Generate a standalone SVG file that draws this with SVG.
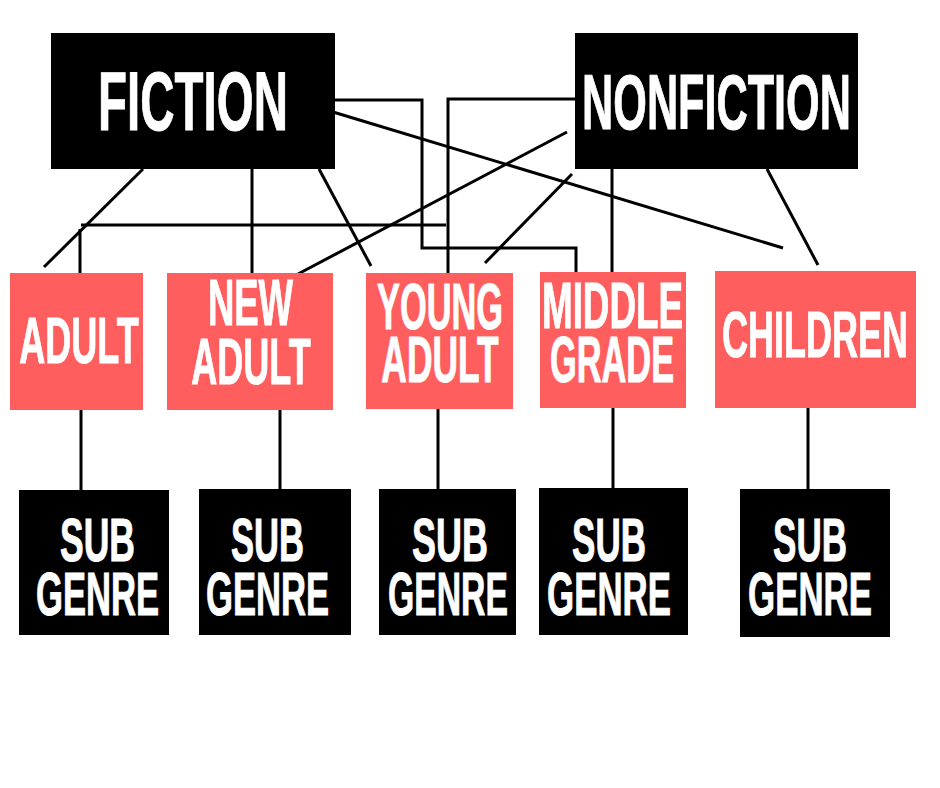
<svg xmlns="http://www.w3.org/2000/svg" width="940" height="788" viewBox="0 0 940 788">
<style>
.blk{fill:#000}
.red{fill:#FF5E5E}
.t{fill:#fff;font-family:"Liberation Sans",Arial,sans-serif;font-weight:700;text-anchor:middle;stroke:#fff;stroke-width:1}
.c{stroke:#000;stroke-width:3;fill:none;stroke-linecap:butt}
</style>
<rect width="940" height="788" fill="#fff"/>
<g id="connectors">
<line class="c" x1="143" y1="169" x2="44" y2="267"/>
<line class="c" x1="252" y1="169" x2="252" y2="276"/>
<line class="c" x1="319" y1="169" x2="371" y2="266"/>
<line class="c" x1="298" y1="274" x2="567" y2="132"/>
<polyline class="c" points="333,100 422,100 422,248 576,248 576,272"/>
<polyline class="c" points="575,99 448,99 448,273"/>
<line class="c" x1="333" y1="112" x2="783" y2="248"/>
<line class="c" x1="485" y1="263" x2="572" y2="174"/>
<line class="c" x1="612" y1="169" x2="612" y2="272"/>
<line class="c" x1="767" y1="169" x2="818" y2="265"/>
<line class="c" x1="81" y1="225" x2="446" y2="225"/>
<line class="c" x1="80" y1="229" x2="80" y2="273"/>
<line class="c" x1="81" y1="410" x2="81" y2="490"/>
<line class="c" x1="280" y1="410" x2="280" y2="489"/>
<line class="c" x1="438" y1="409" x2="438" y2="489"/>
<line class="c" x1="613" y1="408" x2="613" y2="488"/>
<line class="c" x1="808" y1="408" x2="808" y2="489"/>
</g>
<g id="fiction">
<rect class="blk" x="51" y="33" width="284" height="136"/>
<text class="t" font-size="84" transform="translate(193,130) scale(0.565,1)">FICTION</text>
</g>
<g id="nonfiction">
<rect class="blk" x="575" y="33" width="283" height="136"/>
<text class="t" font-size="78" transform="translate(716.5,129) scale(0.554,1)">NONFICTION</text>
</g>
<g id="adult">
<rect class="red" x="10" y="273" width="133" height="137"/>
<text class="t" font-size="64" transform="translate(79,363) scale(0.563,1)">ADULT</text>
</g>
<g id="new-adult">
<rect class="red" x="167" y="273" width="166" height="137"/>
<text class="t" font-size="65" transform="translate(250.5,325) scale(0.561,1)">NEW</text>
<text class="t" font-size="64" transform="translate(251,384) scale(0.563,1)">ADULT</text>
</g>
<g id="young-adult">
<rect class="red" x="366" y="273" width="147" height="136"/>
<text class="t" font-size="64" transform="translate(440,329) scale(0.537,1)">YOUNG</text>
<text class="t" font-size="64" transform="translate(440,382) scale(0.553,1)">ADULT</text>
</g>
<g id="middle-grade">
<rect class="red" x="540" y="272" width="146" height="136"/>
<text class="t" font-size="64" transform="translate(612.5,328) scale(0.575,1)">MIDDLE</text>
<text class="t" font-size="64" transform="translate(612,382) scale(0.537,1)">GRADE</text>
</g>
<g id="children">
<rect class="red" x="715" y="271" width="201" height="137"/>
<text class="t" font-size="64" transform="translate(815,357) scale(0.563,1)">CHILDREN</text>
</g>
<g id="sub1">
<rect class="blk" x="19" y="490" width="150" height="145"/>
<text class="t" font-size="62" transform="translate(97.5,561) scale(0.573,1)">SUB</text>
<text class="t" font-size="62" transform="translate(97.5,615) scale(0.558,1)">GENRE</text>
</g>
<g id="sub2">
<rect class="blk" x="199" y="489" width="152" height="146"/>
<text class="t" font-size="62" transform="translate(267.5,561) scale(0.558,1)">SUB</text>
<text class="t" font-size="62" transform="translate(267.5,615) scale(0.558,1)">GENRE</text>
</g>
<g id="sub3">
<rect class="blk" x="379" y="489" width="137" height="146"/>
<text class="t" font-size="62" transform="translate(450,561) scale(0.58,1)">SUB</text>
<text class="t" font-size="62" transform="translate(448,615) scale(0.544,1)">GENRE</text>
</g>
<g id="sub4">
<rect class="blk" x="539" y="488" width="149" height="147"/>
<text class="t" font-size="62" transform="translate(609,561) scale(0.565,1)">SUB</text>
<text class="t" font-size="62" transform="translate(609,615) scale(0.562,1)">GENRE</text>
</g>
<g id="sub5">
<rect class="blk" x="740" y="489" width="150" height="148"/>
<text class="t" font-size="62" transform="translate(810,561) scale(0.565,1)">SUB</text>
<text class="t" font-size="62" transform="translate(810,615) scale(0.562,1)">GENRE</text>
</g>
</svg>
